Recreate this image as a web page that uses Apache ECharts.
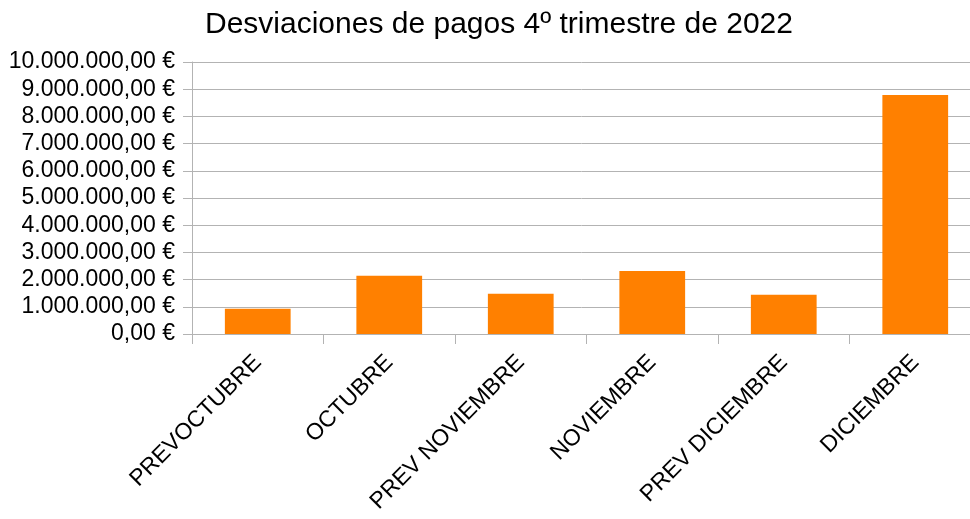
<!DOCTYPE html>
<html>
<head>
<meta charset="utf-8">
<script src="https://cdn.jsdelivr.net/npm/echarts@6/dist/echarts.min.js"></script>
<style>
  html, body { margin: 0; padding: 0; background: #fff; }
  #main { width: 970px; height: 519px; }
</style>
</head>
<body>
<div id="main"></div>
<script>
// datos del grafico
const titulo = 'Desviaciones de pagos 4º trimestre de 2022';
const meses = ['PREVOCTUBRE', 'OCTUBRE', 'PREV NOVIEMBRE', 'NOVIEMBRE', 'PREV DICIEMBRE', 'DICIEMBRE'];
const desviaciones = [930000, 2140000, 1480000, 2320000, 1440000, 8790000];
const ejeMax = 10000000;
const ejePaso = 1000000;

// formato europeo: 1.000.000,00 €
function formatoEuro(v) {
  let entero = Math.round(v).toString().replace(/\B(?=(\d{3})+(?!\d))/g, '.');
  return entero + ',00 €';
}

const chart = echarts.init(document.getElementById('main'));
const fuente = 'Liberation Sans';

chart.setOption({
  animation: false,
  backgroundColor: '#fff',
  title: {
    text: titulo,
    left: 200,
    top: 5,
    textStyle: { fontFamily: fuente, fontSize: 30, fontWeight: 'normal', color: '#000' }
  },
  grid: {
    left: 192,
    top: 62,
    width: 789,
    height: 272,
    outerBoundsMode: 'none',
    containLabel: false
  },
  xAxis: {
    type: 'category',
    data: meses,
    axisLine: { lineStyle: { color: '#b3b3b3', width: 1 } },
    axisTick: { show: true, length: 10, lineStyle: { color: '#b3b3b3' } },
    axisLabel: {
      rotate: 45,
      margin: 25,
      interval: 0,
      fontFamily: fuente,
      fontSize: 23,
      color: '#000'
    }
  },
  yAxis: {
    type: 'value',
    min: 0,
    max: ejeMax,
    interval: ejePaso,
    axisLine: { show: true, lineStyle: { color: '#b3b3b3' } },
    axisTick: { show: true, length: 9, lineStyle: { color: '#b3b3b3' } },
    splitLine: { lineStyle: { color: '#b3b3b3', width: 1 } },
    axisLabel: {
      margin: 17,
      fontFamily: fuente,
      fontSize: 23,
      color: '#000',
      formatter: formatoEuro
    }
  },
  series: [{
    type: 'bar',
    data: desviaciones,
    barWidth: '50%',
    itemStyle: { color: '#ff8000' }
  }]
});
</script>
</body>
</html>
